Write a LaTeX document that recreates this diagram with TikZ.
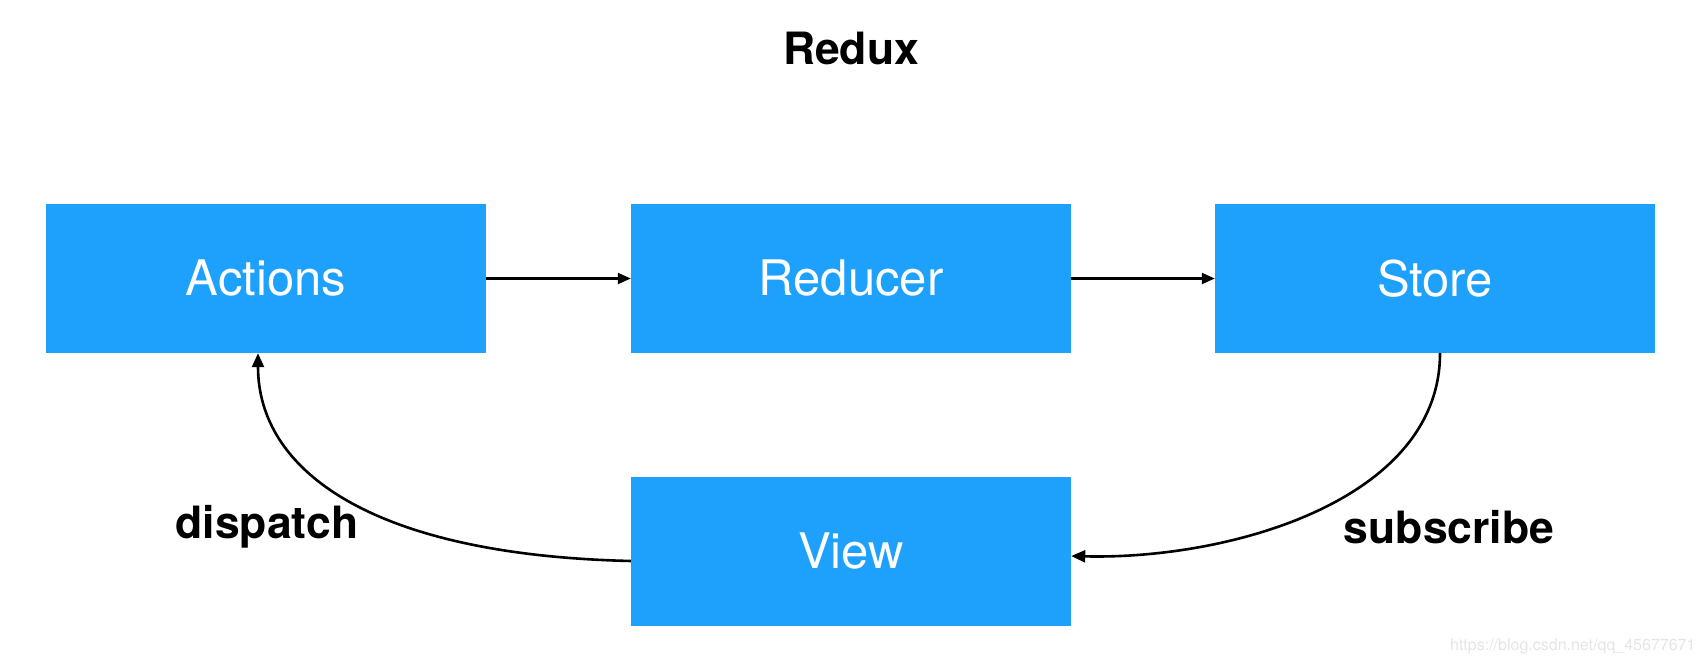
\documentclass[tikz,border=0pt]{standalone}
\usepackage{fontspec}
\setmainfont{TeX Gyre Heros}
\usetikzlibrary{arrows.meta}
\definecolor{boxblue}{RGB}{30,161,252}
\tikzset{
  box/.style={fill=boxblue, draw=none, minimum width=440pt, minimum height=149pt, inner sep=0pt,
    text=white, font=\fontsize{49}{56}\selectfont},
  arr/.style={line width=2.2pt, -{Triangle[length=13pt,width=11pt]}},
  carr/.style={line width=2.6pt, -{Triangle[length=14pt,width=12pt]}},
  lbl/.style={font=\bfseries\fontsize{44.5}{50}\selectfont, text=black}
}
\begin{document}
\begin{tikzpicture}[x=1pt,y=-1pt]
\useasboundingbox (0,0) rectangle (1708,666);
\node[lbl] (title) at (851,48) {Redux};
\node[box] (act) at (266,278.5) {Actions};
\node[box] (red) at (851,278.5) {Reducer};
\node[box] (sto) at (1435,278.5) {Store};
\node[box] (vw) at (851,551.5) {View};
\draw[arr] (act.east) -- (red.west);
\draw[arr] (red.east) -- (sto.west);
\draw[carr] ([xshift=5pt]sto.south) .. controls (1440,500) and (1230,560) .. ([yshift=-4.5pt]vw.east);
\draw[carr] ([yshift=-9.5pt]vw.west) .. controls (370,555) and (258,470) .. ([xshift=-8pt]act.south);
\node[lbl] (disp) at (267,527) {dispatch};
\node[lbl] (subs) at (1449,527) {subscribe};
\node[anchor=east, text=black!10, font=\fontsize{16}{18}\selectfont] (wm) at (1699,646) {https://blog.csdn.net/qq\_45677671};
\end{tikzpicture}
\end{document}
